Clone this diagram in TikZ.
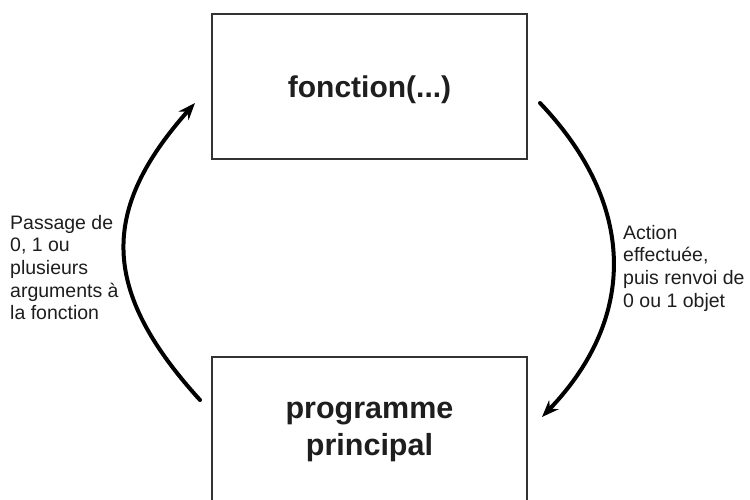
\documentclass[tikz,border=0pt]{standalone}
\usepackage{fontspec}
\setmainfont{Liberation Sans}
\usetikzlibrary{arrows.meta}
\definecolor{boxline}{HTML}{333333}
\definecolor{txt}{HTML}{1E1E1E}
\tikzset{
  box/.style={draw=boxline, line width=2.6pt, fill=white, minimum width=315pt, minimum height=145pt, inner sep=0pt, text=txt},
  flow/.style={line width=4pt, line cap=round, -{Stealth[length=17pt, width=13pt]}},
  lbl/.style={anchor=north west, inner sep=0pt, align=left, text=txt, font=\fontsize{19.5}{22.6}\selectfont},
}
\begin{document}
\begin{tikzpicture}[x=1pt, y=-1pt]
\useasboundingbox (0,0) rectangle (750,499);
\begin{scope}
\clip (0,0) rectangle (750,499);
\node[box] (fct) at (369.5,86.5) {};
\node[font=\fontsize{30}{36}\selectfont\bfseries, text=txt, inner sep=0pt] (fcttxt) at (369.5,90) {fonction(...)};
\node[box] (prog) at (369.5,429.5) {};
\node[align=center, font=\fontsize{30.5}{36.5}\selectfont\bfseries, text=txt, inner sep=0pt] (progtxt) at (369.5,432) {programme\\principal};
\end{scope}
\coordinate (ls) at (200,400);
\coordinate (le) at (195,103);
\coordinate (rs) at (540,103);
\coordinate (re) at (542,417);
\draw[flow] (ls) .. controls (100,290) and (100,210) .. (le);
\draw[flow] (rs) .. controls (637,205) and (637,318) .. (re);
\node[lbl] (argl) at (10,215) {Passage de\\0, 1 ou\\plusieurs\\arguments à\\la fonction};
\node[lbl] (retl) at (623,225) {Action\\effectuée,\\puis renvoi de\\0 ou 1 objet};
\end{tikzpicture}
\end{document}
